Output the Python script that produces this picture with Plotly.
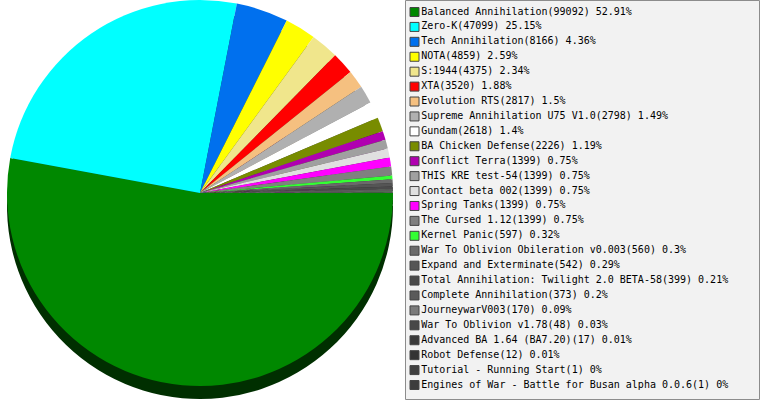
import plotly.graph_objects as go

names = ["Balanced Annihilation", "Zero-K", "Tech Annihilation", "NOTA", "S:1944", "XTA",
         "Evolution RTS", "Supreme Annihilation U75 V1.0", "Gundam", "BA Chicken Defense",
         "Conflict Terra", "THIS KRE test-54", "Contact beta 002", "Spring Tanks",
         "The Cursed 1.12", "Kernel Panic", "War To Oblivion Obileration v0.003",
         "Expand and Exterminate", "Total Annihilation: Twilight 2.0 BETA-58",
         "Complete Annihilation", "JourneywarV003", "War To Oblivion v1.78",
         "Advanced BA 1.64 (BA7.20)", "Robot Defense", "Tutorial - Running Start",
         "Engines of War - Battle for Busan alpha 0.0.6"]
values = [99092, 47099, 8166, 4859, 4375, 3520, 2817, 2798, 2618, 2226,
          1399, 1399, 1399, 1399, 1399, 597, 560, 542, 399, 373, 170, 48, 17, 12, 1, 1]
colors = ["#008800", "#00ffff", "#0070ee", "#ffff00", "#f0e68c", "#ff0000",
          "#f5c080", "#b0b0b0", "#ffffff", "#788c00", "#b000b0", "#a0a0a0",
          "#e0e0e0", "#ff00ff", "#808080", "#33ff33", "#6a6a6a", "#555555",
          "#4a4a4a", "#5a5a5a", "#7a7a7a", "#484848", "#3a3a3a", "#333333",
          "#404040", "#3c3c3c"]

total = sum(values)
labels = [f"{n}({v}) {round(100 * v / total, 2):g}%" for n, v in zip(names, values)]


def darken(c, f=0.35):
    r, g, b = int(c[1:3], 16), int(c[3:5], 16), int(c[5:7], 16)
    return f"rgb({int(r*f)},{int(g*f)},{int(b*f)})"


W, H = 761, 400
R = 193
cx, cy = 200, 193  # pixels from top-left
depth = 13

fig = go.Figure()
# shadow / depth
fig.add_trace(go.Pie(
    values=values, labels=names, sort=False, direction="clockwise", rotation=90,
    marker=dict(colors=[darken(c) for c in colors], line=dict(width=0)),
    textinfo="none", hoverinfo="skip", showlegend=False,
    domain=dict(x=[(cx - R) / W, (cx + R) / W],
                y=[(H - cy - depth - R) / H, (H - cy - depth + R) / H])))
# top surface
fig.add_trace(go.Pie(
    values=values, labels=names, sort=False, direction="clockwise", rotation=90,
    marker=dict(colors=colors, line=dict(width=0)),
    textinfo="none", showlegend=False,
    domain=dict(x=[(cx - R) / W, (cx + R) / W],
                y=[(H - cy - R) / H, min(1.0, (H - cy + R) / H)])))

# legend built as a scatter
n = len(names)
row0, step = 12, 14.92
fig.add_trace(go.Scatter(
    x=[414.5] * n, y=list(range(n)), mode="markers+text",
    marker=dict(symbol="square", size=9, color=colors, line=dict(color="#444444", width=1)),
    text=labels, textposition="middle right",
    textfont=dict(family="DejaVu Sans Mono", size=10, color="#000000"),
    xaxis="x2", yaxis="y2", showlegend=False, hoverinfo="text", cliponaxis=False))

fig.update_layout(
    width=W, height=H, margin=dict(l=0, r=0, t=0, b=0),
    paper_bgcolor="white", plot_bgcolor="rgba(0,0,0,0)",
    xaxis2=dict(domain=[0, 1], range=[0, W], visible=False, fixedrange=True),
    yaxis2=dict(domain=[0, 1], range=[(H - row0) / step, -row0 / step], visible=False, fixedrange=True),
    shapes=[dict(type="rect", xref="paper", yref="paper", layer="below",
                 x0=405.5 / W, x1=759.5 / W, y0=0.5 / H, y1=(H - 0.5) / H,
                 fillcolor="#f2f2f2", line=dict(color="#8c8c8c", width=1))],
)

fig.write_html("out.html", config={"displayModeBar": False},
               post_script="document.body.style.margin='0';document.body.style.overflow='hidden';")
